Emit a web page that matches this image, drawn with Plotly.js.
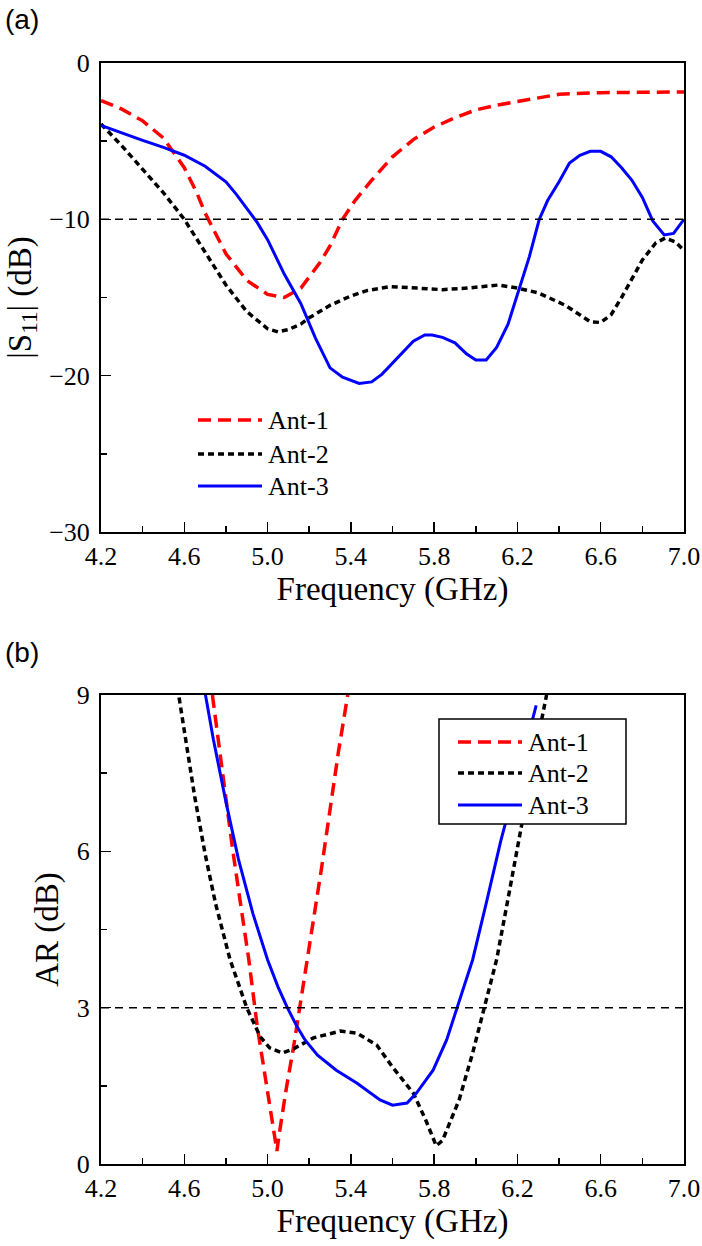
<!DOCTYPE html>
<html>
<head>
<meta charset="utf-8">
<script src="https://cdn.plot.ly/plotly-3.0.1.min.js"></script>
<style>
  html, body { margin: 0; padding: 0; background: #ffffff; }
  #chart { width: 702px; height: 1246px; }
</style>
</head>
<body>
<div id="chart"></div>
<script>
// ---------- (a) reflection coefficient |S11| ----------
const freqS11Ant1 = [4.2, 4.3, 4.4, 4.5, 4.6, 4.66, 4.7, 4.8, 4.9, 5.0, 5.08, 5.16, 5.25, 5.3, 5.36, 5.42, 5.5, 5.6, 5.7, 5.8, 5.9, 6.0, 6.1, 6.2, 6.3, 6.4, 6.6, 6.8, 7.0];
const s11Ant1     = [-2.4, -2.95, -3.7, -4.8, -6.7, -8.3, -9.6, -12.2, -13.9, -14.8, -15.0, -14.4, -12.8, -11.7, -10.0, -8.8, -7.5, -6.0, -4.9, -4.1, -3.5, -3.0, -2.7, -2.45, -2.2, -2.0, -1.9, -1.85, -1.85];

const freqS11Ant2 = [4.2, 4.3, 4.4, 4.5, 4.6, 4.7, 4.8, 4.9, 5.0, 5.05, 5.1, 5.16, 5.2, 5.3, 5.4, 5.48, 5.59, 5.72, 5.84, 5.96, 6.11, 6.2, 6.3, 6.43, 6.55, 6.6, 6.65, 6.7, 6.75, 6.8, 6.865, 6.91, 6.96, 7.0];
const s11Ant2     = [-3.9, -5.3, -6.8, -8.3, -10.0, -12.1, -14.2, -15.9, -17.0, -17.2, -17.05, -16.7, -16.3, -15.5, -14.9, -14.55, -14.3, -14.4, -14.5, -14.4, -14.2, -14.4, -14.7, -15.5, -16.55, -16.6, -16.1, -15.0, -13.8, -12.6, -11.5, -11.2, -11.45, -12.0];

const freqS11Ant3 = [4.2, 4.3, 4.4, 4.5, 4.6, 4.7, 4.8, 4.85, 4.9, 4.95, 5.0, 5.08, 5.16, 5.23, 5.3, 5.36, 5.44, 5.5, 5.55, 5.635, 5.7, 5.755, 5.79, 5.84, 5.9, 5.955, 6.0, 6.05, 6.1, 6.155, 6.195, 6.257, 6.305, 6.345, 6.4, 6.45, 6.5, 6.55, 6.6, 6.65, 6.7, 6.75, 6.8, 6.85, 6.905, 6.95, 7.0];
const s11Ant3     = [-4.0, -4.5, -4.95, -5.4, -5.9, -6.6, -7.6, -8.4, -9.3, -10.2, -11.3, -13.5, -15.4, -17.6, -19.5, -20.1, -20.5, -20.4, -19.9, -18.7, -17.8, -17.4, -17.4, -17.55, -17.9, -18.6, -19.0, -19.0, -18.2, -16.7, -15.0, -12.4, -10.0, -8.8, -7.6, -6.4, -5.9, -5.65, -5.65, -6.0, -6.7, -7.5, -8.6, -10.1, -11.0, -10.9, -10.0];

// ---------- (b) axial ratio ----------
const freqARAnt1 = [4.735, 4.78, 4.83, 4.87, 4.91, 4.95, 4.99, 5.02, 5.035, 5.045, 5.055, 5.07, 5.09, 5.125, 5.155, 5.18, 5.22, 5.26, 5.3, 5.34, 5.385];
const arAnt1     = [9.0, 7.6, 6.1, 5.0, 3.92, 2.65, 1.67, 0.85, 0.5, 0.25, 0.55, 0.95, 1.45, 2.25, 3.0, 3.7, 4.7, 5.7, 6.8, 7.9, 9.0];

const freqARAnt2 = [4.56, 4.607, 4.65, 4.7, 4.75, 4.82, 4.9, 4.965, 5.01, 5.07, 5.125, 5.22, 5.35, 5.43, 5.525, 5.6, 5.7, 5.76, 5.81, 5.84, 5.92, 5.985, 6.04, 6.1, 6.16, 6.22, 6.28, 6.34];
const arAnt2     = [9.33, 8.14, 7.05, 5.95, 5.0, 3.92, 3.0, 2.44, 2.23, 2.13, 2.21, 2.42, 2.55, 2.51, 2.28, 1.86, 1.36, 0.84, 0.35, 0.45, 1.23, 2.13, 3.0, 3.92, 5.2, 6.5, 7.8, 9.0];

const freqARAnt3 = [4.7, 4.74, 4.8, 4.86, 4.93, 5.0, 5.05, 5.095, 5.14, 5.18, 5.24, 5.33, 5.43, 5.54, 5.6, 5.65, 5.67, 5.715, 5.795, 5.86, 5.91, 5.985, 6.05, 6.12, 6.2, 6.29];
const arAnt3     = [9.04, 8.14, 6.95, 5.85, 4.8, 3.92, 3.4, 3.0, 2.65, 2.38, 2.09, 1.8, 1.55, 1.23, 1.13, 1.15, 1.17, 1.36, 1.8, 2.38, 3.0, 3.92, 5.0, 6.2, 7.4, 8.8];

const seriesNames = ['Ant-1', 'Ant-2', 'Ant-3'];
const xTickVals = [4.2, 4.6, 5.0, 5.4, 5.8, 6.2, 6.6, 7.0];
const s11Limit = -10;   // dB
const arLimit = 3;      // dB

// ---------- styling ----------
const SERIF = 'Liberation Serif, Times New Roman, serif';
const SANS = 'Liberation Sans, Arial, sans-serif';
const lineStyles = [
  { color: '#ff0000', width: 3.5, dash: '13px,7px' },
  { color: '#000000', width: 3.5, dash: '6px,4px' },
  { color: '#0000ff', width: 3, dash: 'solid' }
];

// page geometry (pixels)
const W = 702, H = 1246;
const plotLeft = 101, plotRight = 684;
const topA = 63, botA = 532, topB = 695, botB = 1164;
const ph = botB - topA;
const fx = px => (px - plotLeft) / (plotRight - plotLeft);
const fy = py => (botB - py) / ph;

function makeTraces(xs, ys, xa, ya) {
  return xs.map((x, i) => ({
    type: 'scatter', mode: 'lines', x: x, y: ys[i], name: seriesNames[i],
    xaxis: xa, yaxis: ya, showlegend: false,
    line: { color: lineStyles[i].color, width: lineStyles[i].width, dash: lineStyles[i].dash, shape: 'linear' }
  }));
}

const traces = [].concat(
  makeTraces([freqS11Ant1, freqS11Ant2, freqS11Ant3], [s11Ant1, s11Ant2, s11Ant3], 'x', 'y'),
  makeTraces([freqARAnt1, freqARAnt2, freqARAnt3], [arAnt1, arAnt2, arAnt3], 'x2', 'y2')
);

const tickFont = { family: SERIF, size: 26, color: '#000' };
const titleFont = { family: SERIF, size: 33, color: '#000' };

function xAxis(anchor) {
  return {
    anchor: anchor, range: [4.2, 7.0], tickvals: xTickVals, ticktext: xTickVals.map(v => v.toFixed(1)),
    ticks: 'inside', ticklen: 10, tickwidth: 1.5, tickcolor: '#000',
    minor: { dtick: 0.2, tick0: 4.2, ticks: 'inside', ticklen: 6, tickwidth: 1.5, tickcolor: '#000', showgrid: false },
    showline: true, linewidth: 2, linecolor: '#000', mirror: true,
    showgrid: false, zeroline: false, tickfont: tickFont,
    title: { text: 'Frequency (GHz)', font: titleFont, standoff: 2 }
  };
}
function yAxis(anchor, domain, range, dtick, minorDtick, title) {
  return {
    anchor: anchor, domain: domain, range: range, dtick: dtick, tick0: 0,
    ticks: 'inside', ticklen: 10, tickwidth: 1.5, tickcolor: '#000',
    minor: { dtick: minorDtick, tick0: 0, ticks: 'inside', ticklen: 6, tickwidth: 1.5, tickcolor: '#000', showgrid: false },
    showline: true, linewidth: 2, linecolor: '#000', mirror: true, ticklabelstandoff: 4,
    showgrid: false, zeroline: false, tickfont: tickFont,
    title: { text: title, font: titleFont, standoff: 8 }
  };
}

// reference levels
const shapes = [
  { type: 'line', xref: 'x domain', yref: 'y', x0: 0, x1: 1, y0: s11Limit, y1: s11Limit,
    line: { color: '#000', width: 1.5, dash: '8px,6px' } },
  { type: 'line', xref: 'x2 domain', yref: 'y2', x0: 0, x1: 1, y0: arLimit, y1: arLimit,
    line: { color: '#000', width: 1.5, dash: '8px,6px' } }
];
const annotations = [
  { text: '(a)', xref: 'paper', yref: 'paper', x: fx(3), y: fy(19), xanchor: 'left', yanchor: 'middle',
    showarrow: false, font: { family: SANS, size: 28, color: '#000' } },
  { text: '(b)', xref: 'paper', yref: 'paper', x: fx(3), y: fy(652), xanchor: 'left', yanchor: 'middle',
    showarrow: false, font: { family: SANS, size: 28, color: '#000' } }
];

// legend rows drawn as short line samples plus labels
function addLegend(x0, x1, textX, rows) {
  rows.forEach((py, i) => {
    shapes.push({ type: 'line', xref: 'paper', yref: 'paper', layer: 'above',
      x0: fx(x0), x1: fx(x1), y0: fy(py), y1: fy(py),
      line: { color: lineStyles[i].color, width: lineStyles[i].width, dash: lineStyles[i].dash } });
    annotations.push({ text: seriesNames[i], xref: 'paper', yref: 'paper', x: fx(textX), y: fy(py),
      xanchor: 'left', yanchor: 'middle', showarrow: false, font: { family: SERIF, size: 26, color: '#000' } });
  });
}
// panel (a): unframed legend
addLegend(198, 262, 266, [420, 454, 486]);

// panel (b): white framed legend box
shapes.push({ type: 'rect', xref: 'paper', yref: 'paper', layer: 'above',
  x0: fx(439), x1: fx(626), y0: fy(719), y1: fy(824),
  fillcolor: '#ffffff', line: { color: '#000', width: 1.5 } });
addLegend(458, 522, 526, [742, 773, 805]);

const layout = {
  width: W, height: H,
  margin: { l: plotLeft, r: W - plotRight, t: topA, b: H - botB, pad: 0 },
  paper_bgcolor: '#ffffff', plot_bgcolor: '#ffffff',
  showlegend: false,
  xaxis: xAxis('y'),
  yaxis: yAxis('x', [fy(botA), 1], [-30, 0], 10, 5, '|S<sub>11</sub>| (dB)'),
  xaxis2: xAxis('y2'),
  yaxis2: yAxis('x2', [0, fy(topB)], [0, 9], 3, 1.5, 'AR (dB)'),
  shapes: shapes,
  annotations: annotations
};

Plotly.newPlot('chart', traces, layout, { staticPlot: true, displayModeBar: false });
</script>
</body>
</html>
